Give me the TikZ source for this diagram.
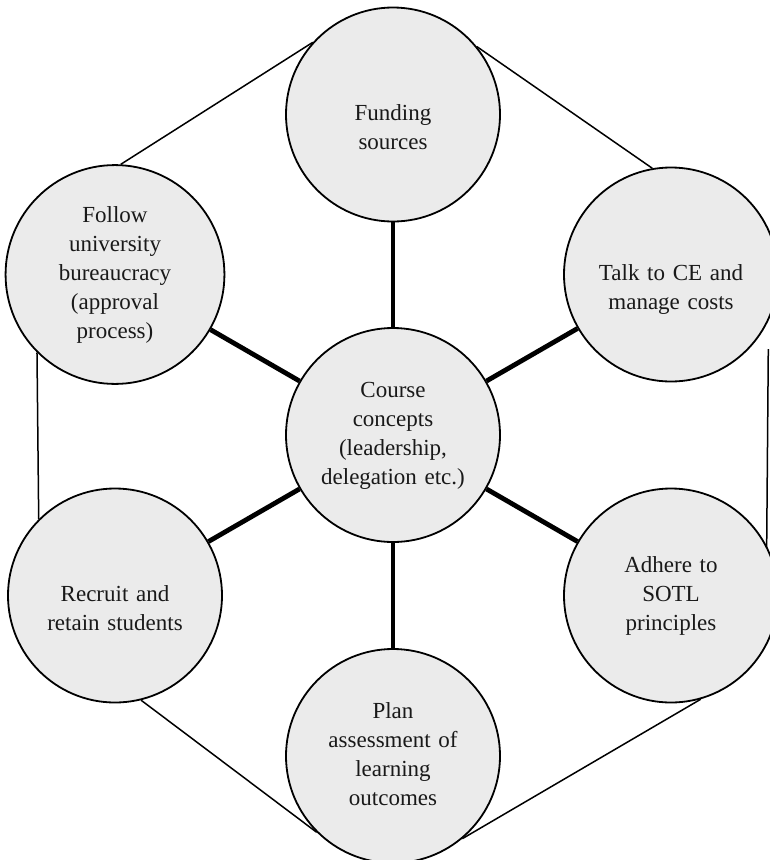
\documentclass[tikz,border=0pt]{standalone}
\usepackage{fontspec}
\setmainfont{Liberation Serif}
\usetikzlibrary{backgrounds}
\begin{document}
\begin{tikzpicture}[x=1pt,y=-1pt,
  topic/.style={circle, draw=black, line width=1.8pt, fill=black!8,
    minimum size=214pt, inner sep=0pt, text width=165pt, align=center,
    font=\fontsize{23}{29}\selectfont, text=black!90},
  spoke/.style={line width=4.8pt},
  rim/.style={line width=1.5pt}]
\useasboundingbox (0,0) rectangle (770,860);
\clip (0,0) rectangle (770,860);

% hub and the six surrounding topics
\node[topic] (C)  at (393,435)   {\strut Course\\concepts\\(leadership,\\delegation etc.)\strut};
\node[topic] (T)  at (393,114.5) {\strut\\Funding\\sources\strut};
\node[topic] (TR) at (671,274.5) {\strut\\Talk to CE and\\manage costs\strut};
\node[topic] (BR) at (671,595.5) {\strut Adhere to\\SOTL\\principles\strut};
\node[topic] (B)  at (393,756)   {\strut Plan\\assessment of\\learning\\outcomes\strut};
\node[topic] (BL) at (115,595.5) {\strut\\Recruit and\\retain students\strut};
\node[topic] (TL) at (115,274.5) {\strut Follow\\university\\bureaucracy\\(approval\\process)\strut};

\coordinate (r1) at (768.3,349);
\coordinate (r2) at (766.6,556);

\begin{scope}[on background layer]
  % spokes from the hub
  \foreach \n in {T,TR,BR,B,BL,TL}
    \draw[spoke] (C) -- (\n);
  % outer ring joining neighbouring topics
  \draw[rim] (TL.87) -- (T.138);
  \draw[rim] (T.39) -- (TR.100);
  \draw[rim] (r1) -- (r2);
  \draw[rim] (B.-50) -- (BR.-74);
  \draw[rim] (BL.-76) -- (B.-135);
  \draw[rim] (TL.225) -- (BL.135);
\end{scope}
\end{tikzpicture}
\end{document}
